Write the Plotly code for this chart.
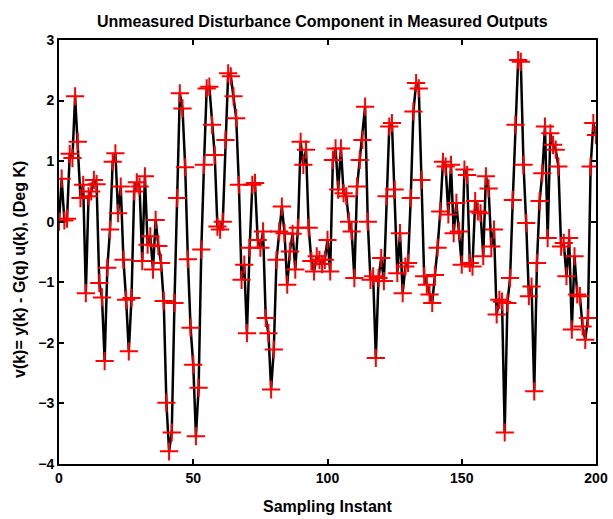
import plotly.graph_objects as go

# Sampling instants 0..200
sample_index = list(range(201))

# Unmeasured disturbance component v(k) at each sampling instant (Deg K)
disturbance = [
    0.0, 0.71, 0.02, 0.05, 1.12, 1.05, 2.07, 1.32, 0.39, 0.61,
    -1.18, 0.42, 0.5, 0.69, 0.62, -1.01, -1.25, -2.3, -0.76, -0.13,
    0.99, 1.13, 0.14, 0.58, -0.63, -1.29, -2.14, -1.26, 0.5, 0.65,
    0.58, -0.65, 0.75, -0.38, -0.24, -0.79, 0.03, -0.4, -0.68, -1.31,
    -2.99, -3.79, -3.48, -1.34, 0.39, 2.12, 1.87, 0.9, -0.62, -1.75,
    -2.36, -3.54, -2.74, -0.46, 0.94, 2.2, 2.23, 1.6, 1.1, -0.08,
    -0.13, 0.0, 1.35, 2.45, 2.4, 2.07, 1.71, 0.61, -0.96, -0.71,
    -1.84, -0.43, 0.61, 0.64, -0.3, -0.43, -0.16, -1.59, -1.84, -2.77,
    -2.11, -0.63, -0.16, 0.25, -0.19, -1.04, -0.49, -0.2, -0.79, -0.1,
    1.32, 0.94, 1.19, -0.1, -0.65, -0.82, -0.57, -0.63, -0.7, -0.63,
    -0.3, -0.82, 1.02, 1.21, 0.53, 1.21, 0.47, 0.42, 0.0, -0.16,
    -0.93, 0.58, 1.02, 1.35, 1.9, 0.0, -0.96, -0.9, -2.25, -0.93,
    -0.6, -0.98, 0.42, 1.57, 1.63, 0.53, -0.85, -0.19, -1.18, -0.74,
    -0.68, 0.39, 1.82, 2.29, 2.2, 0.69, -0.9, -1.04, -1.2, -1.34,
    -0.88, -0.43, 0.17, 0.99, 0.91, 0.12, 0.94, -0.19, 0.31, -0.16,
    -0.71, 0.86, 0.77, -0.68, -0.74, 0.34, 0.17, 0.14, -0.57, 0.75,
    0.55, -0.41, -0.13, -1.53, -1.29, -1.32, -3.48, -1.34, -0.93, 0.36,
    1.6, 2.67, 2.64, 0.94, -0.02, -1.23, -1.07, -2.8, -0.68, 0.34,
    0.8, 1.57, -0.27, 1.46, 1.27, 1.19, 0.91, -0.41, -0.35, -0.9,
    -0.27, -1.78, -0.57, -1.2, -1.23, -1.73, -1.95, -1.59, 0.91, 1.63,
    1.43,
]

x_ticks = [0, 50, 100, 150, 200]
y_ticks = [-4, -3, -2, -1, 0, 1, 2, 3]

title_text = "Unmeasured Disturbance Component in Measured Outputs"
x_title = "Sampling Instant"
y_title = "v(k)= y(k) - G(q) u(k), (Deg K)"

font_family = "Liberation Sans, Arial, Helvetica, sans-serif"
label_font = dict(family=font_family, size=16, color="black", weight="bold")

fig = go.Figure()
fig.add_trace(go.Scatter(
    x=sample_index,
    y=disturbance,
    mode="lines+markers",
    line=dict(color="black", width=2.5),
    marker=dict(symbol="cross-thin", size=13, color="red",
                line=dict(color="red", width=2)),
    showlegend=False,
))

axis_common = dict(
    showline=True, linecolor="black", linewidth=2, mirror="allticks",
    ticks="inside", ticklen=5, tickwidth=1.5, tickcolor="black",
    showgrid=False, zeroline=False, automargin=False,
    tickfont=dict(family=font_family, size=14, color="black", weight="bold"),
)

fig.update_xaxes(range=[0, 200], tickvals=x_ticks, **axis_common)
fig.update_yaxes(range=[-4, 3], tickvals=y_ticks, **axis_common)

# Titles placed as annotations so their offsets can be set in pixels
fig.add_annotation(text=title_text, xref="paper", yref="paper",
                   x=0.4915, y=1, xanchor="center", yanchor="middle",
                   yshift=19, showarrow=False, font=label_font)
fig.add_annotation(text=x_title, xref="paper", yref="paper",
                   x=0.5, y=0, xanchor="center", yanchor="middle",
                   yshift=-42, showarrow=False, font=label_font)
fig.add_annotation(text=y_title, xref="paper", yref="paper",
                   x=0, y=0.4575, xanchor="center", yanchor="middle",
                   xshift=-40, textangle=-90, showarrow=False, font=label_font)

fig.update_layout(
    width=613, height=519,
    margin=dict(l=59, r=17, t=40, b=55),
    paper_bgcolor="white", plot_bgcolor="white",
)

fig.write_html("out.html")
